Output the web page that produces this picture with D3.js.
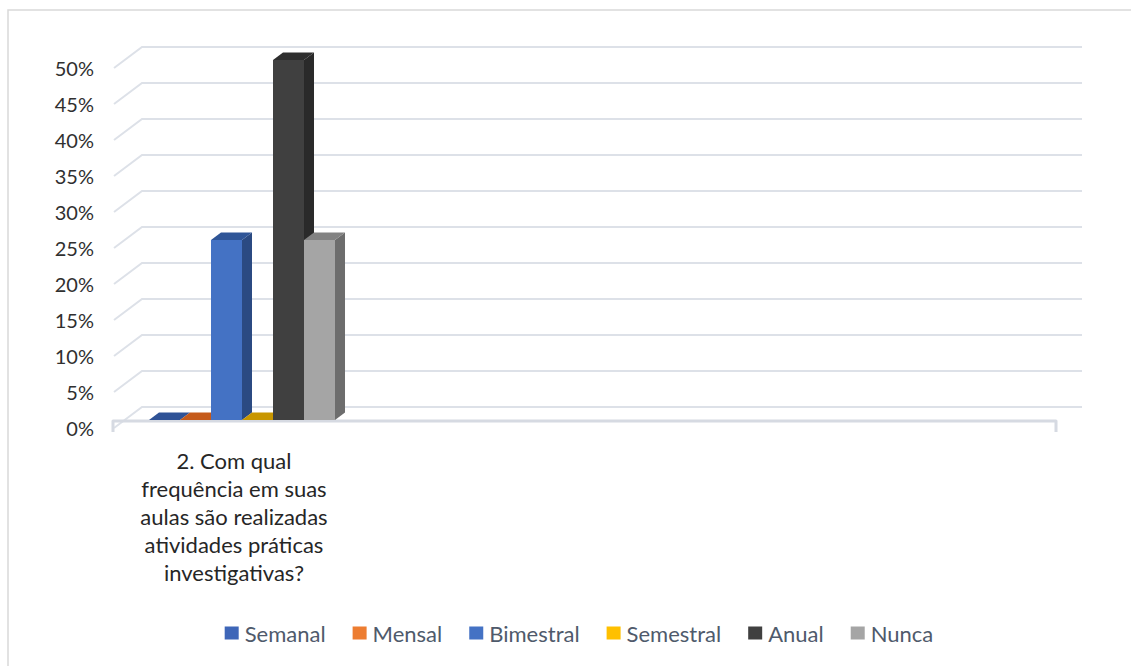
<!DOCTYPE html>
<html>
<head>
<meta charset="utf-8">
<script src="https://cdn.jsdelivr.net/npm/d3@7"></script>
<style>
  html, body { margin: 0; padding: 0; background: #fff; }
  svg { display: block; }
  text { font-family: Lato, "Open Sans", sans-serif; }
</style>
</head>
<body>
<svg id="chart" width="1131" height="666"></svg>
<script>
// Survey question and answer shares
const categories = ["2. Com qual frequência em suas aulas são realizadas atividades práticas investigativas?"];
const categoryLines = ["2. Com qual", "frequência em suas", "aulas são realizadas", "atividades práticas", "investigativas?"];
const seriesNames = ["Semanal", "Mensal", "Bimestral", "Semestral", "Anual", "Nunca"];
const seriesValues = [0, 0, 0.25, 0, 0.50, 0.25];
const tickValues = [0, 0.05, 0.10, 0.15, 0.20, 0.25, 0.30, 0.35, 0.40, 0.45, 0.50];

const colors = {
  Semanal:   { front: "#3f68b8", top: "#2f5296", side: "#2a4680", legend: "#3e66b8" },
  Mensal:    { front: "#ed7d31", top: "#c55a1a", side: "#a94d15", legend: "#ed7d31" },
  Bimestral: { front: "#4472c4", top: "#2f5597", side: "#2b4a82", legend: "#4472c4" },
  Semestral: { front: "#ffc000", top: "#c89600", side: "#a67c00", legend: "#ffc000" },
  Anual:     { front: "#404040", top: "#2e2e2e", side: "#2a2a2a", legend: "#404040" },
  Nunca:     { front: "#a5a5a5", top: "#828282", side: "#6d6d6d", legend: "#a5a5a5" }
};

const svg = d3.select("#chart");
const gridColor = "#dde1e8";

// outer frame (top and left edges)
svg.append("path")
  .attr("d", "M8,666 L8,10 L1131,10")
  .attr("fill", "none").attr("stroke", "#d9d9d9").attr("stroke-width", 1.5);

// back wall value scale and 3D depth offsets
const y = d3.scaleLinear().domain([0, 0.5]).range([407, 47]);
const wallLeft = 142, wallRight = 1082;
const depthX = 28, depthY = 21;      // wall back edge -> front edge
const barShift = 13;                 // bars sit in front of the wall
const barDX = 10, barDY = -7.5;      // bar depth

// gridlines on the back wall with side-wall diagonals
const grid = svg.append("g");
tickValues.forEach(v => {
  grid.append("path")
    .attr("d", `M${wallLeft - depthX},${y(v) + depthY} L${wallLeft},${y(v)} L${wallRight},${y(v)}`)
    .attr("fill", "none").attr("stroke", gridColor).attr("stroke-width", 2);
});

// y tick labels
const fmt = d3.format(".0%");
svg.append("g").selectAll("text").data(tickValues).join("text")
  .attr("x", 94).attr("y", d => y(d) + depthY)
  .attr("text-anchor", "end").attr("dominant-baseline", "central")
  .attr("font-size", 20).attr("fill", "#303030")
  .text(d => fmt(d));

// floor front edge
svg.append("path")
  .attr("d", "M113,432 L113,421 L1056,421 L1056,432")
  .attr("fill", "none").attr("stroke", "#d6dae2").attr("stroke-width", 3)
  .attr("stroke-linejoin", "round");

// category and series scales
const x0 = d3.scaleBand().domain(categories).range([109, 375]);
const x1 = d3.scaleBand().domain(seriesNames).range([0, x0.bandwidth()]).paddingOuter(1.29).paddingInner(0);

const bars = svg.append("g");
categories.forEach(cat => {
  seriesNames.forEach((s, i) => {
    const v = seriesValues[i];
    const c = colors[s];
    const xl = x0(cat) + x1(s);
    const w = x1.bandwidth();
    const yb = y(0) + barShift;
    const yt = y(v) + barShift;
    const g = bars.append("g");
    // side face
    g.append("path")
      .attr("d", `M${xl + w},${yt} L${xl + w + barDX},${yt + barDY} L${xl + w + barDX},${yb + barDY} L${xl + w},${yb} Z`)
      .attr("fill", c.side);
    // front face
    if (v > 0) {
      g.append("rect").attr("x", xl).attr("y", yt).attr("width", w).attr("height", yb - yt)
        .attr("fill", c.front);
    }
    // top face
    g.append("path")
      .attr("d", `M${xl},${yt} L${xl + barDX},${yt + barDY} L${xl + w + barDX},${yt + barDY} L${xl + w},${yt} Z`)
      .attr("fill", c.top);
  });
});

// category label
const cx = 234;
svg.append("text")
  .attr("text-anchor", "middle").attr("font-size", 22).attr("fill", "#262626")
  .attr("dominant-baseline", "central")
  .selectAll("tspan").data(categoryLines).join("tspan")
  .attr("x", cx).attr("y", (d, i) => 460 + i * 28)
  .text(d => d);

// legend
const legend = svg.append("g");
const legendY = 633;
const gap = 27;
let lx = 0;
const items = [];
seriesNames.forEach(s => {
  const g = legend.append("g");
  g.append("rect").attr("x", 0).attr("y", -6.5).attr("width", 14).attr("height", 13).attr("fill", colors[s].legend);
  const t = g.append("text").attr("x", 20).attr("y", 0).attr("dominant-baseline", "central")
    .attr("font-size", 22).attr("fill", "#4f5a6b").text(s);
  const tw = t.node().getComputedTextLength();
  items.push({ g, x: lx });
  lx += 20 + tw + gap;
});
const total = lx - gap;
const startX = 579 - total / 2;
items.forEach(it => it.g.attr("transform", `translate(${startX + it.x},${legendY})`));
</script>
</body>
</html>
